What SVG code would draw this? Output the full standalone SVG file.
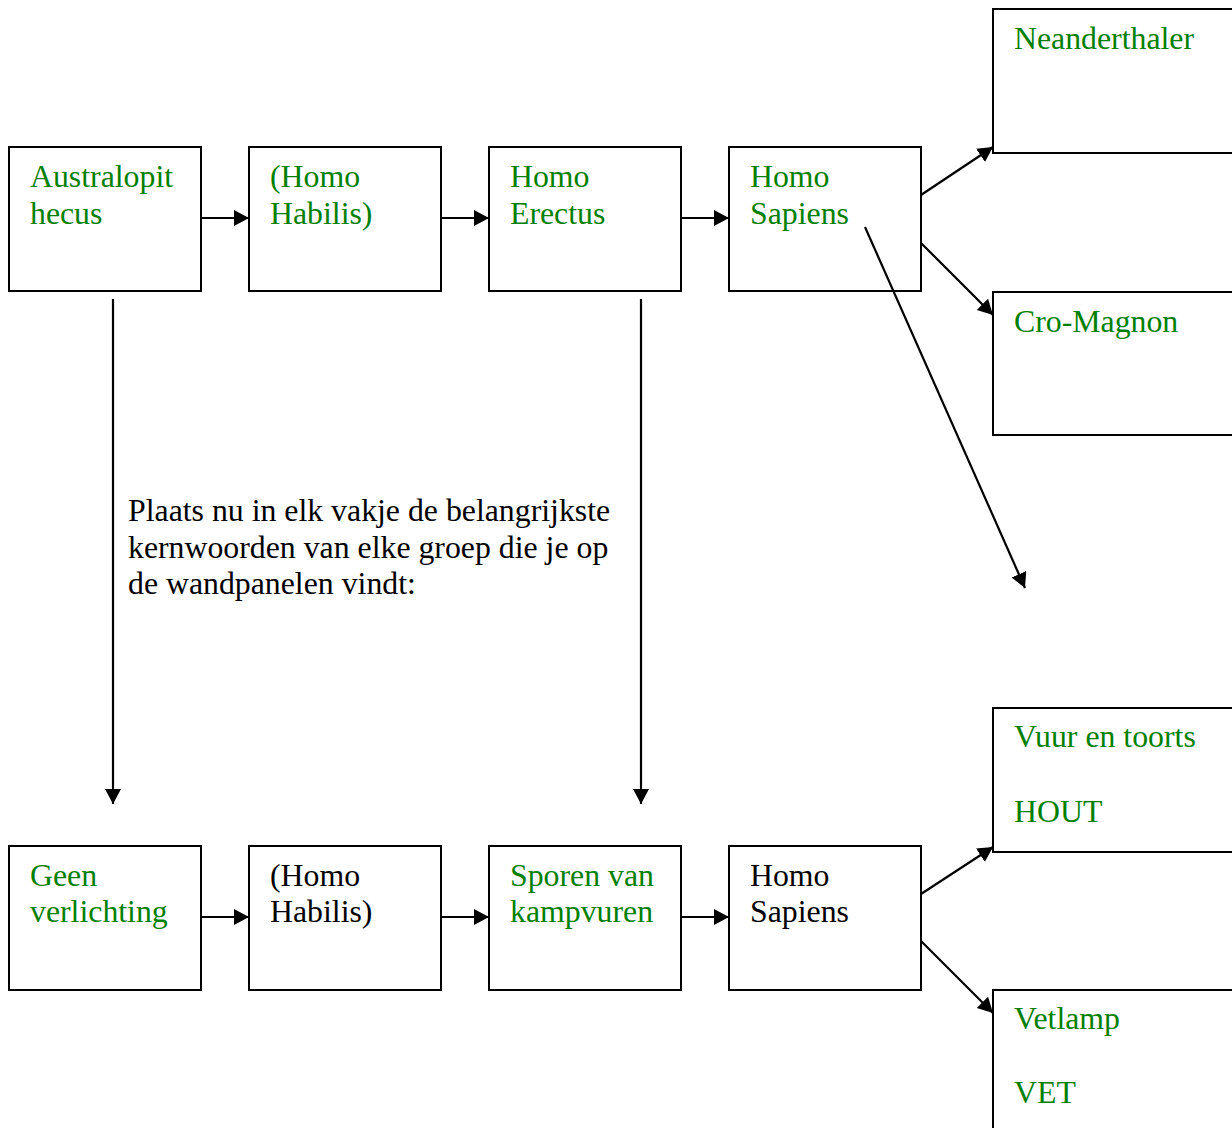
<svg xmlns="http://www.w3.org/2000/svg" width="1232" height="1128" viewBox="0 0 1232 1128">
<style>
.box{fill:#fff;stroke:#000;stroke-width:2}
text{font-family:"Liberation Serif","Times New Roman",serif;font-size:31.8px}
.g{fill:#008000}
.k{fill:#000}
.c{stroke:#000;stroke-width:2.2;fill:none}
</style>
<defs>
<marker id="ah" markerUnits="userSpaceOnUse" markerWidth="17" markerHeight="17" refX="15" refY="8" orient="auto">
<path d="M0,0 L15,8 L0,16 Z" fill="#000"/>
</marker>
</defs>
<rect width="1232" height="1128" fill="#fff"/>
<g id="n-australopithecus"><rect class="box" x="9" y="147" width="192" height="144"/><text class="g" x="30" y="187">Australopit</text><text class="g" x="30" y="224">hecus</text></g>
<g id="n-habilis1"><rect class="box" x="249" y="147" width="192" height="144"/><text class="g" x="270" y="187">(Homo</text><text class="g" x="270" y="224">Habilis)</text></g>
<g id="n-erectus"><rect class="box" x="489" y="147" width="192" height="144"/><text class="g" x="510" y="187">Homo</text><text class="g" x="510" y="224">Erectus</text></g>
<g id="n-sapiens1"><rect class="box" x="729" y="147" width="192" height="144"/><text class="g" x="750" y="187">Homo</text><text class="g" x="750" y="224">Sapiens</text></g>
<g id="n-neanderthaler"><rect class="box" x="993" y="9" width="250" height="144"/><text class="g" x="1014" y="49">Neanderthaler</text></g>
<g id="n-cromagnon"><rect class="box" x="993" y="292" width="250" height="143"/><text class="g" x="1014" y="332">Cro-Magnon</text></g>
<g id="n-instructie"><text class="k" x="128" y="521">Plaats nu in elk vakje de belangrijkste</text><text class="k" x="128" y="558">kernwoorden van elke groep die je op</text><text class="k" x="128" y="594">de wandpanelen vindt:</text></g>
<g id="n-geen"><rect class="box" x="9" y="846" width="192" height="144"/><text class="g" x="30" y="886">Geen</text><text class="g" x="30" y="922">verlichting</text></g>
<g id="n-habilis2"><rect class="box" x="249" y="846" width="192" height="144"/><text class="k" x="270" y="886">(Homo</text><text class="k" x="270" y="922">Habilis)</text></g>
<g id="n-kampvuren"><rect class="box" x="489" y="846" width="192" height="144"/><text class="g" x="510" y="886">Sporen van</text><text class="g" x="510" y="922">kampvuren</text></g>
<g id="n-sapiens2"><rect class="box" x="729" y="846" width="192" height="144"/><text class="k" x="750" y="886">Homo</text><text class="k" x="750" y="922">Sapiens</text></g>
<g id="n-vuur"><rect class="box" x="993" y="708" width="250" height="144"/><text class="g" x="1014" y="747">Vuur en toorts</text><text class="g" x="1014" y="822">HOUT</text></g>
<g id="n-vetlamp"><rect class="box" x="993" y="990" width="250" height="150"/><text class="g" x="1014" y="1029">Vetlamp</text><text class="g" x="1014" y="1103">VET</text></g>
<g id="connectors">
<line class="c" x1="201" y1="218" x2="249" y2="218" marker-end="url(#ah)"/>
<line class="c" x1="441" y1="218" x2="489" y2="218" marker-end="url(#ah)"/>
<line class="c" x1="681" y1="218" x2="729" y2="218" marker-end="url(#ah)"/>
<line class="c" x1="921" y1="195" x2="993" y2="147" marker-end="url(#ah)"/>
<line class="c" x1="921" y1="243" x2="993" y2="315" marker-end="url(#ah)"/>
<line class="c" x1="865" y1="227" x2="1025" y2="588" marker-end="url(#ah)"/>
<line class="c" x1="113" y1="299" x2="113" y2="804" marker-end="url(#ah)"/>
<line class="c" x1="641" y1="299" x2="641" y2="804" marker-end="url(#ah)"/>
<line class="c" x1="201" y1="917" x2="249" y2="917" marker-end="url(#ah)"/>
<line class="c" x1="441" y1="917" x2="489" y2="917" marker-end="url(#ah)"/>
<line class="c" x1="681" y1="917" x2="729" y2="917" marker-end="url(#ah)"/>
<line class="c" x1="921" y1="894" x2="993" y2="847" marker-end="url(#ah)"/>
<line class="c" x1="921" y1="941" x2="993" y2="1013" marker-end="url(#ah)"/>
</g>
</svg>
